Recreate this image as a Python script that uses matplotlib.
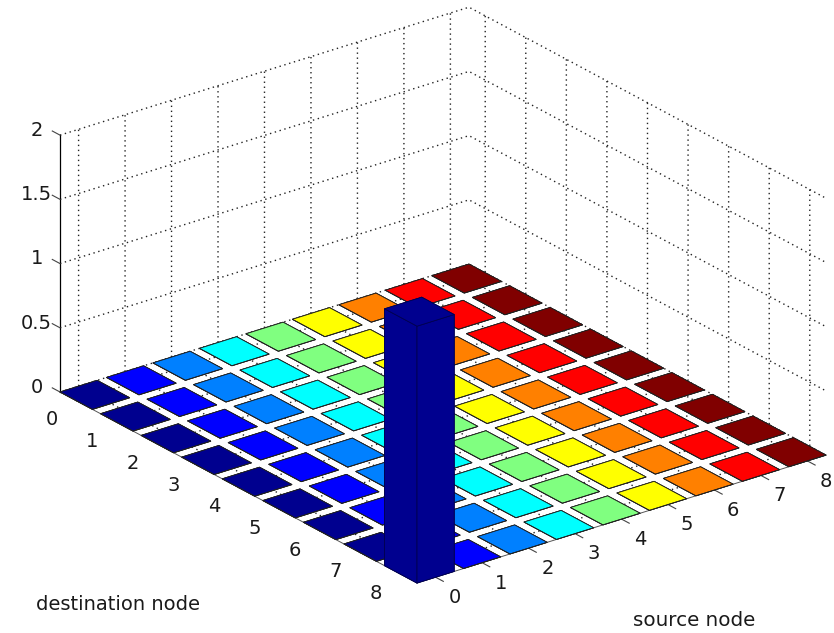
import matplotlib
matplotlib.use("Agg")
import matplotlib.pyplot as plt
import numpy as np
from matplotlib.transforms import ScaledTranslation
from mpl_toolkits.mplot3d import proj3d

plt.rcParams['font.family'] = ['DejaVu Sans']

source_nodes = [0, 1, 2, 3, 4, 5, 6, 7, 8]
dest_nodes = [0, 1, 2, 3, 4, 5, 6, 7, 8]
z_ticks = [0, 0.5, 1, 1.5, 2]
z_tick_labels = ['0', '0.5', '1', '1.5', '2']
source_colors = ['#00008f', '#0000ff', '#0080ff', '#00ffff', '#80ff80',
                 '#ffff00', '#ff8000', '#ff0000', '#800000']
peak_dest = 8
peak_source = 0
peak_value = 2
bar_width = 0.8

W, H = 834, 633
fig = plt.figure(figsize=(W / 100, H / 100), dpi=100, facecolor='white')
ax = fig.add_axes([0, 0, 1, 1], projection='3d', proj_type='ortho', facecolor='none')
ax.computed_zorder = False
ax.set_xlim(-0.4, 8.4)
ax.set_ylim(8.4, -0.4)
ax.set_zlim(0, 2)
ax.view_init(elev=24.15, azim=-127.4)
ax.set_box_aspect((515, 588, 281.6))

for d in dest_nodes:
    for s in source_nodes:
        h = peak_value if (d == peak_dest and s == peak_source) else 0
        if h:
            continue
        ax.bar3d(s - bar_width / 2, d - bar_width / 2, 0, bar_width, bar_width, 0.0,
                 color=source_colors[s], edgecolor='#202020', linewidth=0.6,
                 shade=False, zorder=5)
ax.bar3d(peak_source - bar_width / 2, peak_dest - bar_width / 2, 0, bar_width, bar_width,
         peak_value, color=source_colors[peak_source], edgecolor='#000050', linewidth=0.6,
         shade=False, zorder=6)

ax.set_xticks(source_nodes)
ax.set_yticks(dest_nodes)
ax.set_zticks(z_ticks)
ax.set_zticklabels(z_tick_labels)
for axis in (ax.xaxis, ax.yaxis, ax.zaxis):
    axis.set_pane_color((1, 1, 1, 0))
    axis.pane.set_edgecolor('none')
    axis._axinfo['grid'].update(color='#222222', linewidth=1.0, linestyle=(0, (1, 2.6)))
    axis.line.set_linewidth(0.7)
ax.xaxis._axinfo['tick'].update(inward_factor=0.27, outward_factor=0.0)
ax.yaxis._axinfo['tick'].update(inward_factor=0.0, outward_factor=0.27)
ax.zaxis._axinfo['tick'].update(inward_factor=0.0, outward_factor=0.27)
ax.zaxis._get_tickdir = lambda pos: 1   # z ticks run along the destination direction
ax.xaxis.line.set_color('#555555')
ax.yaxis.line.set_color('#555555')
ax.zaxis.line.set_color('black')
ax.zaxis.line.set_linewidth(0.9)
ax.tick_params(axis='both', labelsize=14, labelcolor='#1a1a1a', color='#444444', pad=2, width=1.0)


def shift_labels(axis, dx, dy):
    """Nudge an axis' tick labels by (dx, dy) pixels on the page."""
    orig = axis.get_major_ticks

    def wrapped(numticks=None):
        ticks = orig(numticks)
        for t in ticks:
            t.label1.set_transform(ax.transData + ScaledTranslation(dx / 100, dy / 100, fig.dpi_scale_trans))
        return ticks
    axis.get_major_ticks = wrapped


shift_labels(ax.xaxis, 7, 4)
shift_labels(ax.yaxis, -11, 3)
shift_labels(ax.zaxis, 2, 12)

# place the projected box on the page
fig.canvas.draw()
lx, ly, _ = proj3d.proj_transform(-0.4, -0.4, 0, ax.get_proj())
rx, ry, _ = proj3d.proj_transform(8.4, 8.4, 0, ax.get_proj())
Lp = np.array([60, H - 392.0])
Rp = np.array([826, H - 455.0])
view = ax.viewLim
sx = (Rp[0] - Lp[0]) / (rx - lx)
size = sx * (view.x1 - view.x0)
left = Lp[0] - (lx - view.x0) * sx
bottom = Lp[1] - (ly - view.y0) * sx
ax.set_position([left / W, bottom / H, size / W, size / H])

fig.text(36 / W, 1 - 605 / H, 'destination node', fontsize=14, va='center', color='#1a1a1a')
fig.text(633 / W, 1 - 621 / H, 'source node', fontsize=14.3, va='center', color='#1a1a1a')

fig.savefig('out.png', dpi=100, facecolor='white')
